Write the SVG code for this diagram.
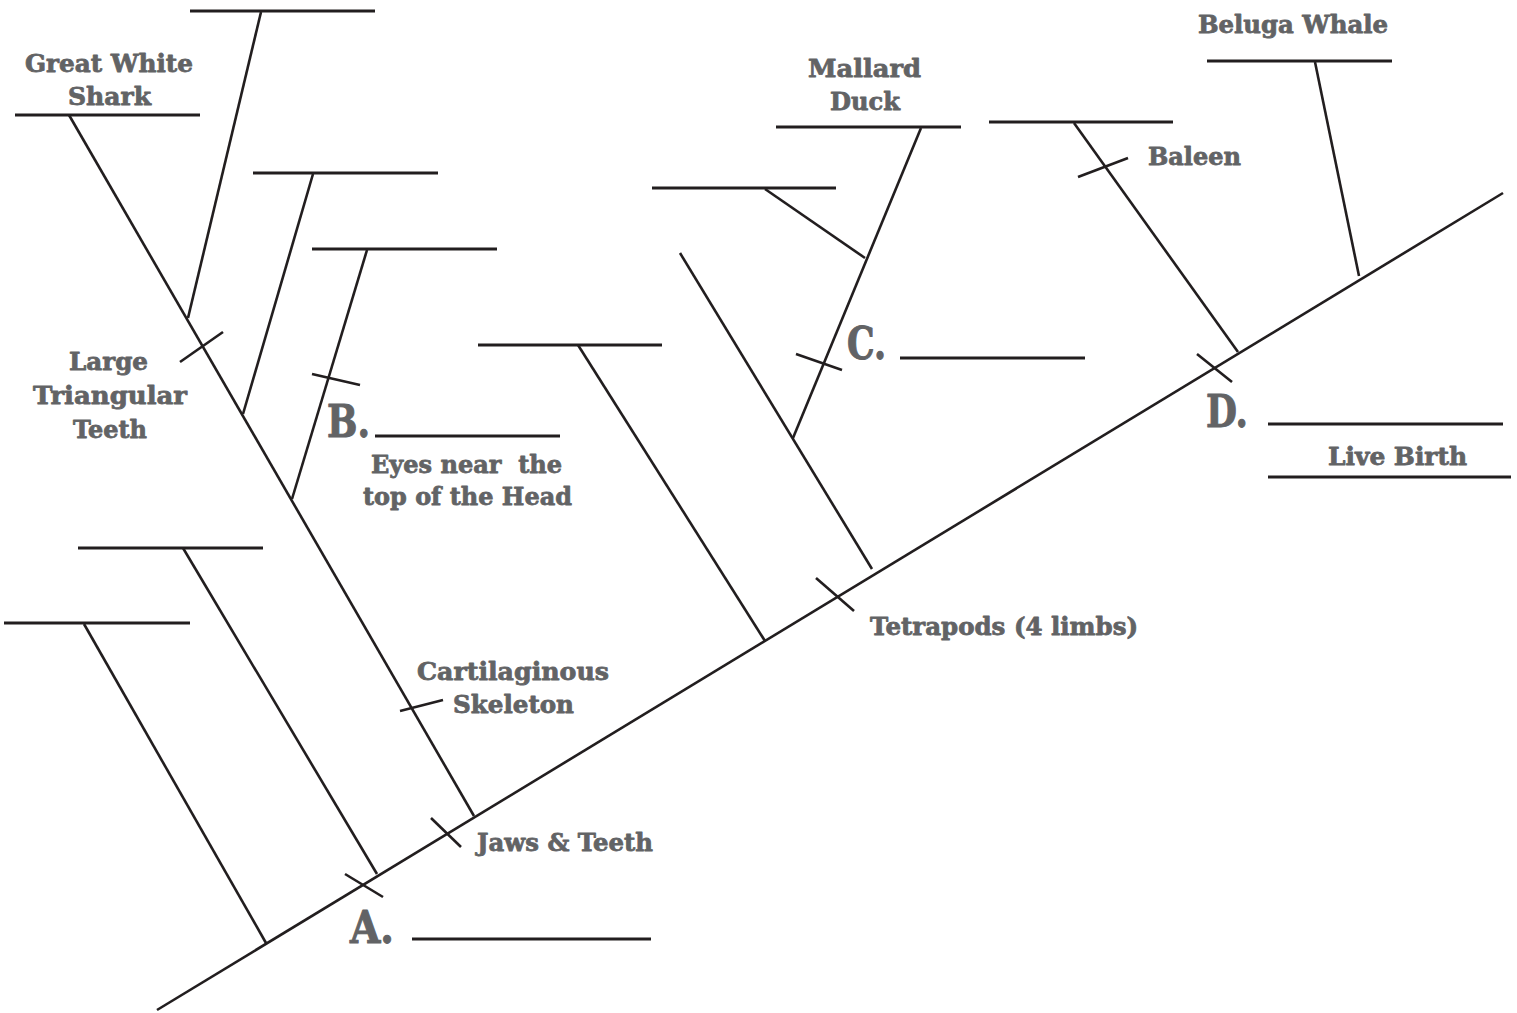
<svg xmlns="http://www.w3.org/2000/svg" width="1517" height="1013" viewBox="0 0 1517 1013">
<style>
.bar{stroke:#221e1f;stroke-width:3.2;fill:none;stroke-linecap:butt}
.br{stroke:#221e1f;stroke-width:2.6;fill:none;stroke-linecap:butt}
.tk{stroke:#221e1f;stroke-width:2.6;fill:none}
.t{font-family:"DejaVu Serif","Liberation Serif",serif;font-weight:bold;font-size:25px;fill:#626365;stroke:#626365;stroke-width:0.8;stroke-linejoin:round}
.big{font-family:"DejaVu Serif","Liberation Serif",serif;font-weight:bold;font-size:44px;fill:#626365;stroke:#626365;stroke-width:1;stroke-linejoin:round}
</style>
<rect width="1517" height="1013" fill="#ffffff"/>
<g id="connectors">
<line class="br" x1="157" y1="1010" x2="1503" y2="193"/>
<line class="br" x1="84" y1="624" x2="266" y2="943"/>
<line class="br" x1="183" y1="548" x2="377" y2="874"/>
<line class="br" x1="69" y1="115" x2="474" y2="816"/>
<line class="br" x1="261" y1="12" x2="188" y2="318"/>
<line class="br" x1="313" y1="174" x2="243" y2="414"/>
<line class="br" x1="367" y1="250" x2="292" y2="499"/>
<line class="br" x1="578" y1="345" x2="765" y2="641"/>
<line class="br" x1="680" y1="253" x2="872" y2="569"/>
<line class="br" x1="921" y1="128" x2="793" y2="438"/>
<line class="br" x1="765" y1="189" x2="865" y2="258"/>
<line class="br" x1="1074" y1="123" x2="1238" y2="352"/>
<line class="br" x1="1315" y1="62" x2="1359" y2="276"/>
</g>
<g id="traits">
<line class="tk" x1="180" y1="362" x2="223" y2="332"/>
<line class="tk" x1="312" y1="374" x2="360" y2="385"/>
<line class="tk" x1="400" y1="711" x2="443" y2="700"/>
<line class="tk" x1="431" y1="818" x2="461" y2="847"/>
<line class="tk" x1="345" y1="874" x2="383" y2="897"/>
<line class="tk" x1="796" y1="354" x2="842" y2="370"/>
<line class="tk" x1="816" y1="578" x2="854" y2="611"/>
<line class="tk" x1="1078" y1="177" x2="1128" y2="158"/>
<line class="tk" x1="1197" y1="354" x2="1232" y2="382"/>
</g>
<g id="taxon-top"><line class="bar" x1="190" y1="11" x2="375" y2="11"/></g>
<g id="taxon-shark"><line class="bar" x1="15" y1="115" x2="200" y2="115"/>
<text class="t" x="25" y="72" textLength="168" lengthAdjust="spacingAndGlyphs">Great White</text>
<text class="t" x="68" y="105" textLength="83" lengthAdjust="spacingAndGlyphs">Shark</text></g>
<g id="taxon-2"><line class="bar" x1="253" y1="173" x2="438" y2="173"/></g>
<g id="taxon-3"><line class="bar" x1="312" y1="249" x2="497" y2="249"/></g>
<g id="taxon-4"><line class="bar" x1="78" y1="548" x2="263" y2="548"/></g>
<g id="taxon-5"><line class="bar" x1="4" y1="623" x2="190" y2="623"/></g>
<g id="taxon-6"><line class="bar" x1="478" y1="345" x2="662" y2="345"/></g>
<g id="taxon-7"><line class="bar" x1="652" y1="188" x2="836" y2="188"/></g>
<g id="taxon-duck"><line class="bar" x1="776" y1="127" x2="961" y2="127"/>
<text class="t" x="808" y="77" textLength="113" lengthAdjust="spacingAndGlyphs">Mallard</text>
<text class="t" x="830" y="110" textLength="70" lengthAdjust="spacingAndGlyphs">Duck</text></g>
<g id="taxon-8"><line class="bar" x1="989" y1="122" x2="1173" y2="122"/></g>
<g id="taxon-beluga"><line class="bar" x1="1207" y1="61" x2="1392" y2="61"/>
<text class="t" x="1198" y="33" textLength="190" lengthAdjust="spacingAndGlyphs">Beluga Whale</text></g>
<g id="label-large-teeth">
<text class="t" x="69" y="370" textLength="79" lengthAdjust="spacingAndGlyphs">Large</text>
<text class="t" x="33" y="404" textLength="154" lengthAdjust="spacingAndGlyphs">Triangular</text>
<text class="t" x="73" y="438" textLength="74" lengthAdjust="spacingAndGlyphs">Teeth</text></g>
<g id="label-B">
<text class="big" x="327" y="437" textLength="43" lengthAdjust="spacingAndGlyphs">B.</text>
<line class="bar" x1="375" y1="436" x2="560" y2="436"/>
<text class="t" xml:space="preserve" x="371" y="473" textLength="191" lengthAdjust="spacingAndGlyphs">Eyes near  the</text>
<text class="t" x="363" y="505" textLength="209" lengthAdjust="spacingAndGlyphs">top of the Head</text></g>
<g id="label-cartilage">
<text class="t" x="417" y="680" textLength="192" lengthAdjust="spacingAndGlyphs">Cartilaginous</text>
<text class="t" x="453" y="713" textLength="121" lengthAdjust="spacingAndGlyphs">Skeleton</text></g>
<g id="label-jaws"><text class="t" x="477" y="851" textLength="176" lengthAdjust="spacingAndGlyphs">Jaws &amp; Teeth</text></g>
<g id="label-A">
<text class="big" x="350" y="943" textLength="44" lengthAdjust="spacingAndGlyphs">A.</text>
<line class="bar" x1="412" y1="939" x2="651" y2="939"/></g>
<g id="label-C">
<text class="big" x="847" y="359" textLength="39" lengthAdjust="spacingAndGlyphs">C.</text>
<line class="bar" x1="900" y1="358" x2="1085" y2="358"/></g>
<g id="label-tetrapods"><text class="t" x="870" y="635" textLength="268" lengthAdjust="spacingAndGlyphs">Tetrapods (4 limbs)</text></g>
<g id="label-baleen"><text class="t" x="1148" y="165" textLength="93" lengthAdjust="spacingAndGlyphs">Baleen</text></g>
<g id="label-D">
<text class="big" x="1206" y="427" textLength="42" lengthAdjust="spacingAndGlyphs">D.</text>
<line class="bar" x1="1268" y1="424" x2="1503" y2="424"/>
<text class="t" x="1328" y="465" textLength="139" lengthAdjust="spacingAndGlyphs">Live Birth</text>
<line class="bar" x1="1268" y1="477" x2="1511" y2="477"/></g>
</svg>
